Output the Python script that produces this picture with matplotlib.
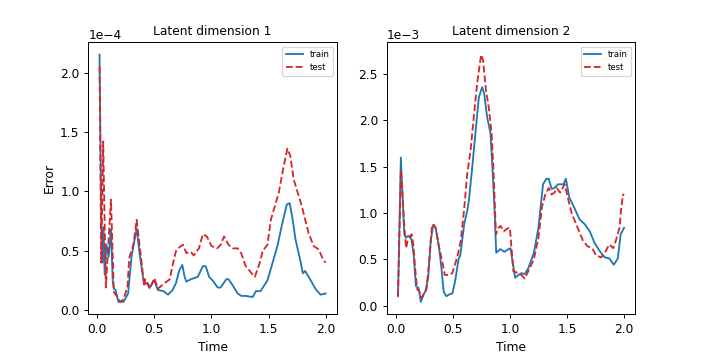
import matplotlib
matplotlib.use("Agg")
import matplotlib.pyplot as plt

# ---- Latent dimension 1 (values in units of 1e-4) ----
t_train1 = [0.02, 0.035, 0.045, 0.055, 0.065, 0.08, 0.10, 0.12, 0.135, 0.145, 0.16, 0.185, 0.23, 0.27, 0.30,
            0.345, 0.37, 0.40, 0.415, 0.44, 0.46, 0.49, 0.50, 0.53, 0.58, 0.62, 0.66, 0.69, 0.72,
            0.745, 0.765, 0.78, 0.82, 0.88, 0.89, 0.925, 0.95, 0.98, 1.01, 1.055, 1.08, 1.13, 1.15,
            1.185, 1.23, 1.26, 1.30, 1.36, 1.39, 1.43, 1.49, 1.53, 1.58, 1.62, 1.66, 1.685, 1.71,
            1.735, 1.78, 1.80, 1.82, 1.87, 1.91, 1.955, 2.0]
train1 = [2.15, 0.75, 0.40, 0.70, 0.30, 0.55, 0.45, 0.68, 0.25, 0.18, 0.17, 0.07, 0.07, 0.14, 0.45,
          0.69, 0.48, 0.28, 0.22, 0.23, 0.19, 0.24, 0.25, 0.17, 0.16, 0.13, 0.17, 0.23, 0.34,
          0.38, 0.28, 0.24, 0.26, 0.28, 0.30, 0.37, 0.37, 0.28, 0.25, 0.19, 0.19, 0.26, 0.26,
          0.21, 0.14, 0.12, 0.12, 0.11, 0.16, 0.16, 0.25, 0.38, 0.55, 0.73, 0.89, 0.90, 0.77,
          0.60, 0.41, 0.31, 0.33, 0.25, 0.18, 0.13, 0.14]

t_test1 = [0.02, 0.035, 0.052, 0.075, 0.12, 0.145, 0.17, 0.20, 0.23, 0.265, 0.28, 0.316, 0.345, 0.37,
           0.40, 0.41, 0.42, 0.46, 0.50, 0.53, 0.58, 0.635, 0.66, 0.69, 0.72, 0.75, 0.78, 0.82, 0.845,
           0.89, 0.925, 0.96, 1.0, 1.05, 1.08, 1.11, 1.15, 1.185, 1.23, 1.26, 1.30, 1.36, 1.38, 1.42,
           1.45, 1.49, 1.52, 1.59, 1.63, 1.665, 1.69, 1.72, 1.79, 1.85, 1.895, 1.94, 1.98, 2.0]
test1 = [2.05, 0.40, 1.42, 0.19, 0.93, 0.15, 0.12, 0.07, 0.09, 0.20, 0.44, 0.55, 0.76, 0.55,
         0.30, 0.20, 0.26, 0.18, 0.27, 0.18, 0.22, 0.26, 0.38, 0.50, 0.53, 0.55, 0.48, 0.49, 0.46,
         0.52, 0.64, 0.62, 0.54, 0.52, 0.55, 0.62, 0.55, 0.52, 0.52, 0.48, 0.37, 0.30, 0.28, 0.39,
         0.50, 0.55, 0.76, 0.99, 1.20, 1.36, 1.30, 1.10, 0.88, 0.65, 0.54, 0.51, 0.42, 0.40]

# ---- Latent dimension 2 (values in units of 1e-3) ----
t_train2 = [0.02, 0.045, 0.06, 0.075, 0.09, 0.105, 0.125, 0.14, 0.157, 0.177, 0.20, 0.22, 0.243, 0.26,
            0.284, 0.307, 0.328, 0.35, 0.38, 0.40, 0.42, 0.443, 0.47, 0.496, 0.52, 0.55, 0.565, 0.60,
            0.626, 0.64, 0.67, 0.70, 0.728, 0.757, 0.775, 0.80, 0.83, 0.85, 0.867, 0.88, 0.916, 0.95,
            0.99, 1.005, 1.046, 1.075, 1.10, 1.13, 1.16, 1.21, 1.25, 1.29, 1.32, 1.34, 1.365, 1.39,
            1.42, 1.47, 1.49, 1.52, 1.57, 1.61, 1.655, 1.70, 1.74, 1.785, 1.83, 1.87, 1.91, 1.945,
            1.97, 2.0]
train2 = [0.10, 1.60, 1.17, 0.77, 0.73, 0.75, 0.75, 0.70, 0.55, 0.21, 0.19, 0.04, 0.12, 0.15,
          0.30, 0.70, 0.87, 0.84, 0.62, 0.41, 0.15, 0.10, 0.12, 0.13, 0.26, 0.50, 0.54, 0.88,
          1.02, 1.13, 1.49, 1.89, 2.25, 2.36, 2.29, 2.04, 1.86, 1.42, 0.99, 0.57, 0.61, 0.58,
          0.61, 0.62, 0.30, 0.33, 0.35, 0.34, 0.40, 0.57, 0.84, 1.31, 1.37, 1.37, 1.26, 1.27,
          1.31, 1.31, 1.37, 1.17, 1.04, 0.93, 0.88, 0.80, 0.68, 0.59, 0.52, 0.51, 0.44, 0.51,
          0.77, 0.84]

t_test2 = [0.02, 0.045, 0.06, 0.075, 0.09, 0.105, 0.14, 0.155, 0.177, 0.19, 0.205, 0.226, 0.25, 0.27,
           0.29, 0.316, 0.33, 0.35, 0.375, 0.41, 0.43, 0.46, 0.496, 0.54, 0.57, 0.60, 0.626, 0.655,
           0.684, 0.713, 0.748, 0.765, 0.79, 0.815, 0.84, 0.86, 0.878, 0.90, 0.92, 0.945, 0.974,
           1.0, 1.03, 1.075, 1.10, 1.13, 1.16, 1.21, 1.25, 1.28, 1.31, 1.34, 1.365, 1.39, 1.41,
           1.44, 1.48, 1.51, 1.54, 1.58, 1.61, 1.64, 1.68, 1.72, 1.756, 1.80, 1.84, 1.87, 1.905,
           1.93, 1.96, 1.974, 1.99, 2.0]
test2 = [0.10, 1.46, 1.20, 0.86, 0.62, 0.70, 0.77, 0.65, 0.30, 0.17, 0.16, 0.08, 0.13, 0.18,
         0.44, 0.84, 0.88, 0.84, 0.66, 0.46, 0.33, 0.33, 0.35, 0.53, 0.70, 1.05, 1.42, 1.67,
         2.04, 2.40, 2.71, 2.65, 2.33, 2.14, 1.86, 1.35, 0.77, 0.84, 0.86, 0.80, 0.83,
         0.84, 0.37, 0.35, 0.33, 0.29, 0.37, 0.50, 0.73, 1.06, 1.20, 1.27, 1.20, 1.22, 1.27,
         1.22, 1.31, 1.15, 1.00, 0.88, 0.79, 0.70, 0.64, 0.62, 0.54, 0.52, 0.59, 0.66, 0.62,
         0.71, 0.84, 1.04, 1.20, 1.19]

titles = ["Latent dimension 1", "Latent dimension 2"]
scales = [1e-4, 1e-3]

fig, axes = plt.subplots(1, 2, figsize=(8, 4), dpi=88.25)
series = [(t_train1, train1, t_test1, test1), (t_train2, train2, t_test2, test2)]
for ax, (ttr, tr, tte, te), title, sc in zip(axes, series, titles, scales):
    ax.plot(ttr, [v * sc for v in tr], color="tab:blue", lw=1.5, label="train")
    ax.plot(tte, [v * sc for v in te], color="tab:red", lw=1.5, ls="--", label="test")
    ax.set_title(title, fontsize=10)
    ax.set_xlabel("Time")
    ax.ticklabel_format(axis="y", style="sci", scilimits=(0, 0))
    ax.legend(fontsize="x-small", loc="upper right")
axes[0].set_ylabel("Error")

fig.savefig("out.png", dpi=88.25)
